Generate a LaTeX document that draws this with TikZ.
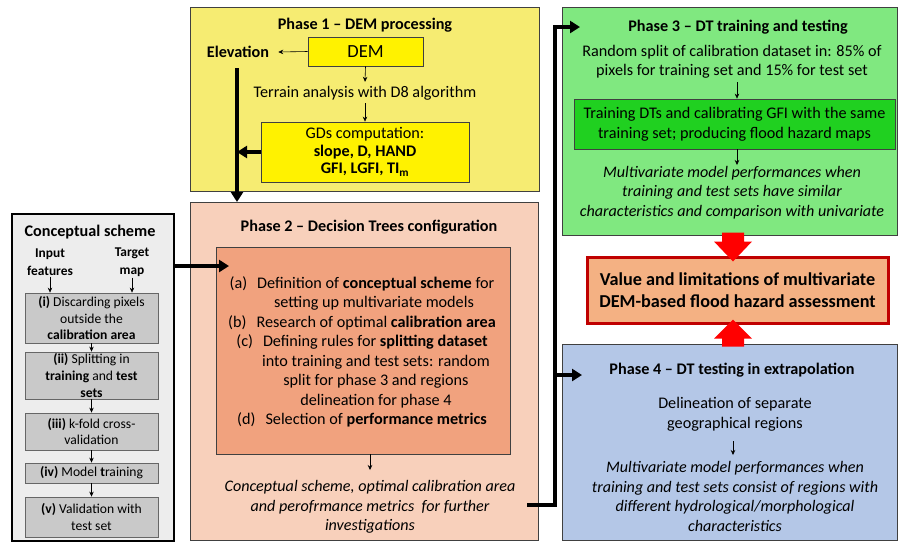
\documentclass[tikz,border=0pt]{standalone}
\usepackage{fontspec}
\setmainfont{Carlito}
\usetikzlibrary{arrows.meta,calc}
\definecolor{pone}{HTML}{F6EC72}
\definecolor{ptwo}{HTML}{F8D0BB}
\definecolor{ptwoin}{HTML}{F1A27E}
\definecolor{pthree}{HTML}{80E880}
\definecolor{gthree}{HTML}{20D020}
\definecolor{pfour}{HTML}{B4C7E7}
\definecolor{tgtfill}{HTML}{F4B183}
\definecolor{tgtred}{HTML}{C00000}
\definecolor{csfill}{HTML}{EDEDED}
\definecolor{cinner}{HTML}{C9C9C9}
\begin{document}
\begin{tikzpicture}[x=1pt,y=-1pt,
  phase/.style={draw=black!75, line width=0.8pt, anchor=north west, inner sep=0pt},
  ttl/.style={font=\bfseries\fontsize{16.2}{19}\selectfont, inner sep=1pt},
  txt/.style={font=\fontsize{16.2}{19.5}\selectfont, align=center, inner sep=1pt},
  itx/.style={font=\itshape\fontsize{16.1}{19.5}\selectfont, align=center, inner sep=1pt},
  ybox/.style={draw=black!75, fill=yellow, line width=0.8pt, inner sep=0pt, align=center},
  thinarr/.style={-{Stealth[length=5pt,width=4.5pt]}, line width=0.6pt},
  thickarr/.style={-{Triangle[length=10pt,width=12pt]}, line width=3.6pt},
  cbox/.style={draw=black!60, fill=cinner, line width=0.8pt, minimum width=133pt, align=center, font=\fontsize{13.6}{16.8}\selectfont, inner sep=0pt},
  ctext/.style={font=\bfseries\fontsize{13.4}{18}\selectfont, align=center, inner sep=1pt},
]
\useasboundingbox (0,0) rectangle (898,542);
\fill[white] (0,0) rectangle (898,542);

% Phase 1
\node[phase, fill=pone, minimum width=349pt, minimum height=184pt] (p1) at (190,7) {};
\node[ttl] (p1title) at (365,25) {Phase 1 -- DEM processing};
\node[ybox, minimum width=115pt, minimum height=29pt, font=\fontsize{18.5}{20}\selectfont] (dem) at (365.5,51.5) {DEM};
\node[ttl] (elev) at (238,52) {Elevation};
\node[txt] (terrain) at (365,93) {Terrain analysis with D8 algorithm};
\node[ybox, minimum width=208pt, minimum height=60pt, font=\fontsize{16.2}{17.5}\selectfont] (gds) at (365,152)
  {GDs computation:\\ \textbf{slope, D, HAND}\\ \textbf{GFI, LGFI, TI\textsubscript{m}}};
\draw[thinarr] (dem.west) -- ([xshift=8pt]elev.east);
\draw[thinarr] (dem.south) -- ([yshift=3pt]terrain.north);
\draw[thinarr] ([yshift=-2pt]terrain.south) -- (gds.north);

% Phase 2
\node[phase, fill=ptwo, minimum width=348pt, minimum height=338pt] (p2) at (190,202) {};
\node[ttl] (p2title) at (369,227) {Phase 2 -- Decision Trees configuration};
\node[draw=black!75, fill=ptwoin, line width=0.8pt, minimum width=294pt, minimum height=207pt, inner sep=0pt] (p2in) at (363,350.5) {};
\node[txt] (p2list) at (362,352) {%
(a)\hspace{10pt}Definition of \textbf{conceptual scheme} for\\
\hspace*{24pt}setting up multivariate models\\
(b)\hspace{10pt}Research of optimal \textbf{calibration area}\\
(c)\hspace{10pt}Defining rules for \textbf{splitting dataset}\\
\hspace*{28pt}into training and test sets: random\\
\hspace*{28pt}split for phase 3 and regions\\
\hspace*{28pt}delineation for phase 4\\
(d)\hspace{10pt}Selection of \textbf{performance metrics}};
\node[itx] (p2out) at (370,507) {Conceptual scheme, optimal calibration area\\ and perofrmance metrics\ \ for further\\ investigations};
\coordinate (p2arrend) at (370,470);
\draw[thinarr] (p2arrend |- p2in.south) -- (p2arrend);

% Phase 3
\node[phase, fill=pthree, minimum width=335pt, minimum height=228pt] (p3) at (562,7) {};
\node[ttl] (p3title) at (738,27) {Phase 3 -- DT training and testing};
\node[txt] (p3t1) at (732,62) {Random split of calibration dataset in: 85\% of\\ pixels for training set and 15\% for test set};
\node[draw=black!75, fill=gthree, line width=0.8pt, minimum width=321pt, minimum height=50pt, inner sep=0pt, align=center, font=\fontsize{16.2}{20}\selectfont] (g3) at (734.5,124)
  {Training DTs and calibrating GFI with the same\\ training set; producing flood hazard maps};
\node[itx] (p3t2) at (732,192.5) {Multivariate model performances when\\ training and test sets have similar\\ characteristics and comparison with univariate};
\coordinate (p3a) at (737,82);
\coordinate (p3b) at (737,165);
\draw[thinarr] (p3a) -- (p3a |- g3.north);
\draw[thinarr] (p3b |- g3.south) -- (p3b);

% Target
\node[draw=tgtred, fill=tgtfill, line width=3pt, minimum width=301pt, minimum height=66pt, inner sep=0pt, align=center, font=\bfseries\fontsize{18.2}{22}\selectfont] (tgt) at (737.5,290)
  {Value and limitations of multivariate\\ DEM-based flood hazard assessment};

% Phase 4
\node[phase, fill=pfour, minimum width=335pt, minimum height=196pt] (p4) at (562,344) {};
\node[ttl] (p4title) at (732,370) {Phase 4 -- DT testing in extrapolation};
\node[txt] (p4t1) at (735,414.5) {Delineation of separate\\ geographical regions};
\node[itx] (p4t2) at (735,496.5) {Multivariate model performances when\\ training and test sets consist of regions with\\ different hydrological/morphological\\ characteristics};
\coordinate (p4a) at (733,441);
\coordinate (p4b) at (733,455);
\draw[thinarr] (p4a) -- (p4b);

% Red block arrows
\coordinate (da) at ([xshift=-4.5pt,yshift=-6pt]tgt.north);
\coordinate (ua) at ([xshift=-4.5pt,yshift=5pt]tgt.south);
\fill[red] (da) -- ++(19,-20) -- ++(-8,0) -- ++(0,-9) -- ++(-22,0) -- ++(0,9) -- ++(-8,0) -- cycle;
\fill[red] (ua) -- ++(19,19) -- ++(-8,0) -- ++(0,8) -- ++(-22,0) -- ++(0,-8) -- ++(-8,0) -- cycle;

% Conceptual scheme
\node[draw=black, fill=csfill, line width=2pt, minimum width=162pt, minimum height=327pt, anchor=north west, inner sep=0pt] (cs) at (11,213) {};
\node[ttl] (cstitle) at (90,232) {Conceptual scheme};
\node[ctext] (inp) at (50,262) {Input\\ features};
\node[ctext] (tmap) at (132,262) {Target\\ map};
\node[cbox, minimum height=50pt] (c1) at (91.5,318) {\textbf{(i)} Discarding pixels\\ outside the\\ \textbf{calibration area}};
\node[cbox, minimum height=47pt] (c2) at (91.5,375.5) {\textbf{(ii)} Splitting in\\ \textbf{training} and \textbf{test}\\ \textbf{sets}};
\node[cbox, minimum height=37pt] (c3) at (91.5,431.5) {\textbf{(iii)} k-fold cross-\\ validation};
\node[cbox, minimum height=20pt] (c4) at (91.5,473) {\textbf{(iv)} Model \textbf{t}raining};
\node[cbox, minimum height=40pt] (c5) at (91.5,517) {\textbf{(v)} Validation with\\ test set};
\draw[thinarr] (inp.south) -- (inp.south |- c1.north);
\draw[thinarr] (tmap.south) -- (tmap.south |- c1.north);
\draw[thinarr] (c1.south) -- (c2.north);
\draw[thinarr] (c2.south) -- (c3.north);
\draw[thinarr] (c3.south) -- (c4.north);
\draw[thinarr] (c4.south) -- (c5.north);

% Thick connectors
\coordinate (p2entry) at (229,266);
\draw[thickarr] (cs.east |- p2entry) -- (p2entry);
\coordinate (elevline) at (237,68);
\draw[thickarr] (elevline) -- (elevline |- p2.north);
\draw[thickarr] (gds.west) -- (gds.west -| elevline);
\coordinate (branch) at (555,375);
\coordinate (busstart) at (527,505);
\draw[thickarr, line join=miter] (busstart) -- (branch |- busstart) |- ([xshift=18pt]p3.west |- p3title);
\draw[thickarr] (branch) -- ([xshift=20pt]p4.west |- branch);
\end{tikzpicture}
\end{document}
